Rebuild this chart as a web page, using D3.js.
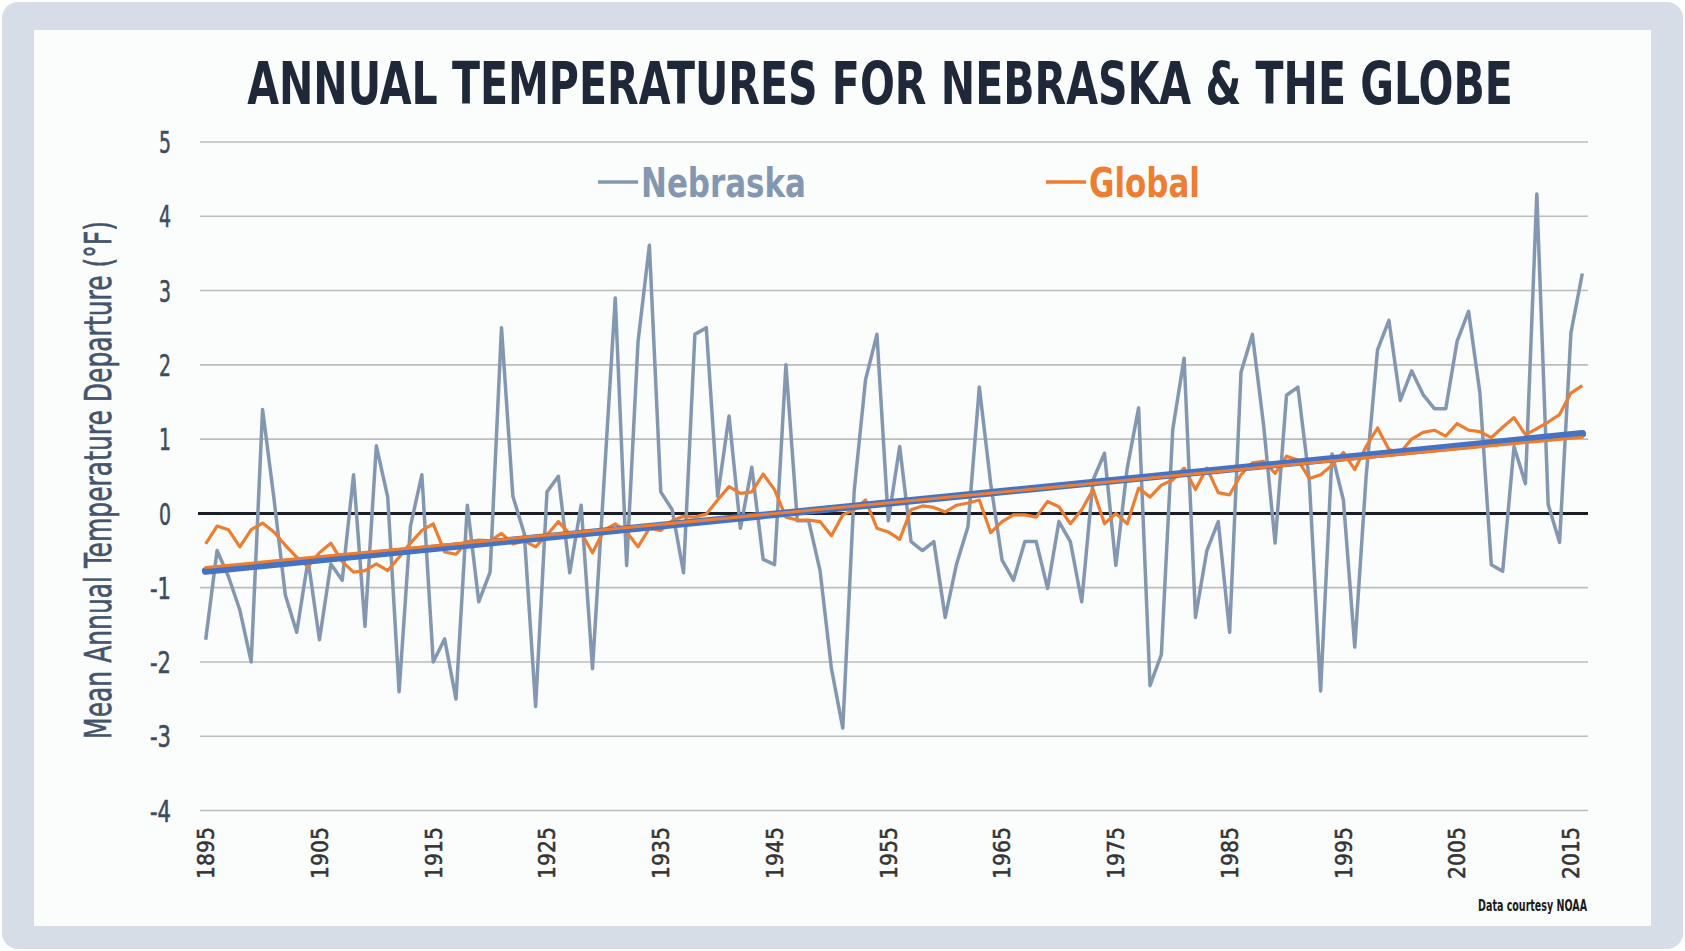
<!DOCTYPE html>
<html>
<head>
<meta charset="utf-8">
<script src="https://cdn.jsdelivr.net/npm/d3@7"></script>
<style>
  body { margin: 0; background: #ffffff; }
  svg { display: block; }
  .cond { font-family: "Liberation Sans Narrow", "DejaVu Sans Condensed", sans-serif; }
</style>
</head>
<body>
<svg id="chart" width="1685" height="951"></svg>
<script>
const years = d3.range(1895, 2017);

// Nebraska annual mean temperature departure (F), 1895-2016
const nebraska = [
  -1.7, -0.5, -0.85, -1.3, -2.0, 1.4, 0.2, -1.1, -1.6, -0.63,
  -1.7, -0.68, -0.9, 0.52, -1.52, 0.91, 0.22, -2.4, -0.17, 0.52,
  -2.0, -1.69, -2.5, 0.11, -1.19, -0.79, 2.5, 0.23, -0.27, -2.6,
  0.29, 0.5, -0.8, 0.11, -2.09, 0.4, 2.9, -0.7, 2.31, 3.61,
  0.29, 0.05, -0.8, 2.41, 2.5, 0.23, 1.31, -0.2, 0.62, -0.62,
  -0.69, 2.0, -0.1, -0.1, -0.77, -2.09, -2.89, 0.3, 1.8, 2.41,
  -0.1, 0.9, -0.38, -0.5, -0.38, -1.4, -0.68, -0.18, 1.7, 0.4,
  -0.63, -0.9, -0.38, -0.38, -1.01, -0.11, -0.38, -1.19, 0.45, 0.81,
  -0.7, 0.61, 1.42, -2.32, -1.9, 1.13, 2.09, -1.4, -0.5, -0.11,
  -1.6, 1.9, 2.41, 1.17, -0.4, 1.59, 1.7, 0.45, -2.39, 0.8,
  0.18, -1.8, 0.5, 2.2, 2.6, 1.52, 1.92, 1.6, 1.41, 1.41,
  2.32, 2.72, 1.62, -0.69, -0.78, 0.9, 0.4, 4.3, 0.12, -0.39,
  2.43, 3.23
];

// Global annual mean temperature departure (F), 1895-2016
const global = [
  -0.41, -0.17, -0.22, -0.45, -0.22, -0.13, -0.25, -0.43, -0.59, -0.72,
  -0.53, -0.4, -0.65, -0.79, -0.77, -0.68, -0.77, -0.59, -0.4, -0.23,
  -0.14, -0.52, -0.55, -0.38, -0.36, -0.37, -0.27, -0.41, -0.37, -0.45,
  -0.29, -0.11, -0.28, -0.26, -0.53, -0.23, -0.14, -0.25, -0.45, -0.2,
  -0.23, -0.1, -0.04, -0.05, -0.01, 0.18, 0.36, 0.27, 0.29, 0.53,
  0.32, -0.05, -0.09, -0.09, -0.11, -0.3, -0.02, 0.05, 0.18, -0.2,
  -0.25, -0.35, 0.05, 0.1, 0.08, 0.02, 0.11, 0.14, 0.18, -0.26,
  -0.11, -0.02, -0.02, -0.05, 0.16, 0.09, -0.14, 0.05, 0.32, -0.14,
  0.0, -0.14, 0.34, 0.22, 0.38, 0.45, 0.61, 0.32, 0.61, 0.28,
  0.25, 0.52, 0.68, 0.7, 0.54, 0.77, 0.72, 0.47, 0.52, 0.65,
  0.82, 0.59, 0.9, 1.15, 0.86, 0.82, 1.0, 1.09, 1.12, 1.04,
  1.21, 1.12, 1.1, 1.02, 1.16, 1.29, 1.06, 1.14, 1.23, 1.33,
  1.62, 1.72
];

const yTicks = [-4, -3, -2, -1, 0, 1, 2, 3, 4, 5];
const xTickLabels = d3.range(1895, 2016, 10);

const NEB_COLOR = "#8497b0";
const GLOBAL_COLOR = "#ed7d31";
const TREND_COLOR = "#4472c4";

const svg = d3.select("#chart");

// squeeze a text horizontally to a target width (keeps the font's shape, just narrower)
function fit(sel, pos, width) {
  sel.each(function(d, i) {
    const t = d3.select(this);
    const w = this.getComputedTextLength();
    const p = typeof pos === "function" ? pos(d, i) : pos;
    const tw = typeof width === "function" ? width(d, i) : width;
    t.attr("transform", `${p} scale(${tw / w},1)`);
  });
}

// frame + panel
svg.append("rect")
  .attr("x", 2).attr("y", 2)
  .attr("width", 1681).attr("height", 947)
  .attr("rx", 16)
  .attr("fill", "#d6dde6");
svg.append("rect")
  .attr("x", 34).attr("y", 30)
  .attr("width", 1617).attr("height", 896)
  .attr("fill", "#fbfcfc");

const x = d3.scalePoint()
  .domain(years)
  .range([200, 1588])
  .padding(0.5);

const y = d3.scaleLinear()
  .domain([-4, 5])
  .range([810.5, 142]);

// gridlines
svg.append("g")
  .selectAll("line")
  .data(yTicks.filter(d => d !== 0))
  .enter()
  .append("line")
  .attr("x1", 200).attr("x2", 1588)
  .attr("y1", d => y(d)).attr("y2", d => y(d))
  .attr("stroke", "#bdbdbd")
  .attr("stroke-width", 1.6);

svg.append("line")
  .attr("x1", 198).attr("x2", 1588)
  .attr("y1", y(0)).attr("y2", y(0))
  .attr("stroke", "#1b1e24")
  .attr("stroke-width", 3);

// y tick labels
svg.append("g")
  .selectAll("text")
  .data(yTicks)
  .enter()
  .append("text")
  .attr("class", "cond")
  .attr("text-anchor", "end")
  .attr("dy", "0.36em")
  .attr("font-size", 31)
  .attr("fill", "#3e4c60")
  .attr("stroke", "#3e4c60")
  .attr("stroke-width", 0.6)
  .text(d => d)
  .call(fit, d => `translate(171,${y(d)})`, d => (d < 0 ? 21 : 12));

// y axis title
svg.append("text")
  .attr("class", "cond")
  .attr("text-anchor", "middle")
  .attr("font-size", 38)
  .attr("fill", "#44546a")
  .attr("stroke", "#44546a")
  .attr("stroke-width", 0.6)
  .text("Mean Annual Temperature Departure (\u00B0F)")
  .call(fit, "translate(111,480) rotate(-90)", 518);

// x tick labels (rotated)
svg.append("g")
  .selectAll("text")
  .data(xTickLabels)
  .enter()
  .append("text")
  .attr("class", "cond")
  .attr("text-anchor", "end")
  .attr("dy", "0.36em")
  .attr("font-size", 23)
  .attr("fill", "#333333")
  .attr("stroke", "#333333")
  .attr("stroke-width", 0.5)
  .text(d => d)
  .call(fit, d => `translate(${x(d)},827) rotate(-90)`, 52);

const line = d3.line()
  .x((d, i) => x(years[i]))
  .y(d => y(d));

svg.append("path")
  .datum(nebraska)
  .attr("d", line)
  .attr("fill", "none")
  .attr("stroke", NEB_COLOR)
  .attr("stroke-width", 3.5)
  .attr("stroke-linejoin", "round");

svg.append("path")
  .datum(global)
  .attr("d", line)
  .attr("fill", "none")
  .attr("stroke", GLOBAL_COLOR)
  .attr("stroke-width", 3.2)
  .attr("stroke-linejoin", "round");

// least squares trend, like excel's linear trendline
function trend(vals) {
  const mx = d3.mean(years), my = d3.mean(vals);
  let num = 0, den = 0;
  years.forEach((xv, i) => {
    num += (xv - mx) * (vals[i] - my);
    den += (xv - mx) * (xv - mx);
  });
  const b = num / den;
  const a = my - b * mx;
  const first = years[0], last = years[years.length - 1];
  return [[first, a + b * first], [last, a + b * last]];
}

const trendLine = d3.line()
  .x(d => x(d[0]))
  .y(d => y(d[1]));

svg.append("path")
  .datum(trend(nebraska))
  .attr("d", trendLine)
  .attr("stroke", TREND_COLOR)
  .attr("stroke-width", 7.5)
  .attr("stroke-linecap", "round");

svg.append("path")
  .datum(trend(global))
  .attr("d", trendLine)
  .attr("stroke", GLOBAL_COLOR)
  .attr("stroke-width", 3)
  .attr("stroke-linecap", "round");

// title
svg.append("text")
  .attr("class", "cond")
  .attr("text-anchor", "middle")
  .attr("font-size", 58)
  .attr("font-weight", "bold")
  .attr("fill", "#1f2838")
  .text("ANNUAL TEMPERATURES FOR NEBRASKA & THE GLOBE")
  .call(fit, "translate(880,104)", 1266);

// legend
const legend = [
  { name: "Nebraska", color: NEB_COLOR, x0: 598, w: 165 },
  { name: "Global", color: GLOBAL_COLOR, x0: 1046, w: 111 }
];
const lg = svg.append("g")
  .selectAll("g")
  .data(legend)
  .enter()
  .append("g");
lg.append("line")
  .attr("x1", d => d.x0).attr("x2", d => d.x0 + 40)
  .attr("y1", 182).attr("y2", 182)
  .attr("stroke", d => d.color)
  .attr("stroke-width", 3.5);
lg.append("text")
  .attr("class", "cond")
  .attr("font-size", 41)
  .attr("font-weight", "bold")
  .attr("fill", d => d.color)
  .text(d => d.name)
  .call(fit, d => `translate(${d.x0 + 43},197)`, d => d.w);

// source note
svg.append("text")
  .attr("class", "cond")
  .attr("text-anchor", "end")
  .attr("font-size", 15)
  .attr("font-weight", "bold")
  .attr("fill", "#1a1a1a")
  .text("Data courtesy NOAA")
  .call(fit, "translate(1587,911)", 109);
</script>
</body>
</html>
